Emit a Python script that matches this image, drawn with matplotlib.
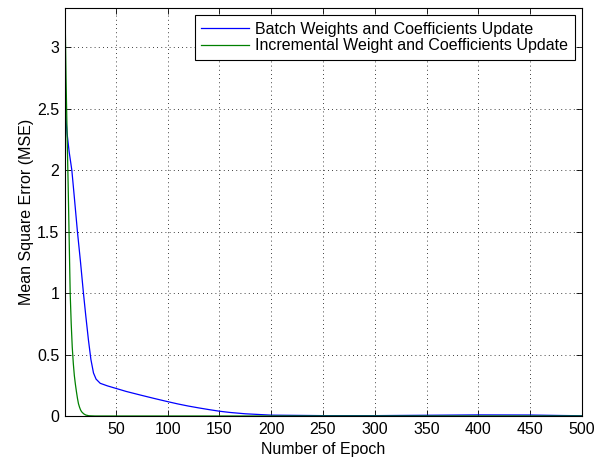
import matplotlib
matplotlib.use("Agg")
import matplotlib.pyplot as plt

plt.rcParams['font.family'] = ['Liberation Sans', 'DejaVu Sans']

batch_epoch = [1, 3, 5, 7.6, 10, 13, 16, 18.8, 21, 23.6, 26, 28.5, 31, 35, 42, 50, 60, 74,
               87, 100, 110, 120, 130, 140, 150, 160, 175, 200, 250, 300, 350, 400, 450, 480, 500]
batch_mse = [2.52, 2.30, 2.15, 2.0, 1.78, 1.50, 1.25, 1.0, 0.82, 0.62, 0.46, 0.35, 0.30,
             0.266, 0.245, 0.225, 0.20, 0.17, 0.143, 0.117, 0.098, 0.081, 0.066, 0.052,
             0.039, 0.029, 0.018, 0.007, 0.003, 0.003, 0.006, 0.009, 0.008, 0.004, 0.002]

inc_epoch = [1, 2, 3, 4, 5, 6, 7, 8, 9, 10, 11, 12, 13, 14, 15, 16, 17, 19, 21, 24, 30, 500]
inc_mse = [3.32, 2.75, 2.3, 1.9, 1.45, 1.0, 0.75, 0.56, 0.43, 0.33, 0.26, 0.20, 0.145, 0.10,
           0.072, 0.05, 0.035, 0.018, 0.008, 0.002, 0.0, 0.0]

labels = ["Batch Weights and Coefficients Update", "Incremental Weight and Coefficients Update"]
x_ticks = [50, 100, 150, 200, 250, 300, 350, 400, 450, 500]
y_ticks = [0, 0.5, 1, 1.5, 2, 2.5, 3]
y_tick_labels = ["0", "0.5", "1", "1.5", "2", "2.5", "3"]

fig = plt.figure(figsize=(6.03, 4.57), dpi=100)
ax = fig.add_axes([65/603, 41/457, 517/603, 408/457])
ax.plot(batch_epoch, batch_mse, color=(0, 0, 1), lw=0.9, label=labels[0])
ax.plot(inc_epoch, inc_mse, color=(0, 0.5, 0), lw=0.9, label=labels[1])

ax.set_xlim(1, 500)
ax.set_ylim(0, 3.32)
ax.set_xticks(x_ticks)
ax.set_yticks(y_ticks)
ax.set_yticklabels(y_tick_labels)
ax.tick_params(direction='in', top=True, right=True, labelsize=11.5, length=4, width=0.6, pad=4)
ax.grid(True, linestyle=(0, (1, 4)), color='black', linewidth=0.6)
for s in ax.spines.values():
    s.set_linewidth(0.8)
ax.set_xlabel("Number of Epoch", fontsize=11.5, labelpad=4)
ax.set_ylabel("Mean Square Error (MSE)", fontsize=11.5, labelpad=2.5)
leg = ax.legend(loc='upper right', fancybox=False, edgecolor='black', framealpha=1,
                fontsize=11.5, borderaxespad=0.45, handlelength=3.0, labelspacing=0.12,
                borderpad=0.4, handletextpad=0.4)
leg.get_frame().set_linewidth(0.8)
fig.savefig("out.png", dpi=100)
